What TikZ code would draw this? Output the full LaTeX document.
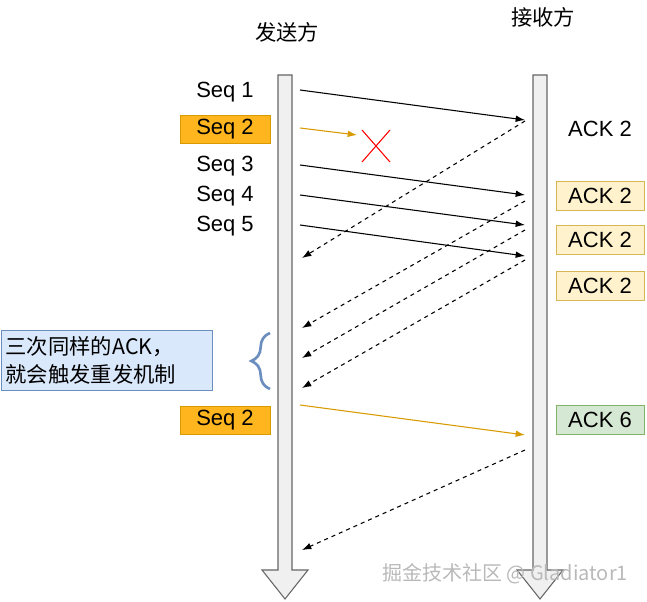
\documentclass[tikz,border=0pt]{standalone}
\usepackage{fontspec}
\setmainfont{Liberation Sans}
\newfontfamily\cjk{Noto Sans CJK SC}
\usetikzlibrary{decorations.pathreplacing,calc,arrows.meta}
\definecolor{orgfill}{HTML}{FFB61E}
\definecolor{orgline}{HTML}{D79B00}
\definecolor{ylwfill}{HTML}{FFF2CC}
\definecolor{ylwline}{HTML}{D6B656}
\definecolor{bluefill}{HTML}{DAE8FC}
\definecolor{blueline}{HTML}{6C8EBF}
\definecolor{grnfill}{HTML}{D5E8D4}
\definecolor{grnline}{HTML}{82B366}
\definecolor{arrorg}{HTML}{D79B00}
\begin{document}
\begin{tikzpicture}[x=0.75pt,y=-0.75pt,font=\fontsize{16.5pt}{19pt}\selectfont,
  lbl/.style={inner sep=0pt},
  orgbox/.style={draw=orgline,fill=orgfill,minimum width=67.5pt,minimum height=21pt,inner sep=0pt},
  ylwbox/.style={draw=ylwline,fill=ylwfill,minimum width=66pt,minimum height=22pt,inner sep=0pt},
  msg/.style={-{Latex[length=7pt,width=5pt]},black,line width=0.8pt},
  omsg/.style={-{Latex[length=7pt,width=5pt]},arrorg,line width=0.8pt},
  ack/.style={-{Latex[length=7pt,width=5pt]},black,dashed,line width=0.8pt},
  bar/.style={draw=gray!80!black,fill=gray!12,line width=0.8pt}]
\useasboundingbox (0,0) rectangle (647,602);
% lifelines
\draw[bar] (278,75)--(292,75)--(292,570)--(308,570)--(285,599)--(262,570)--(278,570)--cycle;
\draw[bar] (533,75)--(547,75)--(547,570)--(563,570)--(540,599)--(517,570)--(533,570)--cycle;
\node[lbl,font=\cjk\fontsize{16pt}{19pt}\selectfont] (snd) at (287,32) {发送方};
\node[lbl,font=\cjk\fontsize{16pt}{19pt}\selectfont] (rcv) at (543,17) {接收方};
% coordinates
\coordinate (s1a) at (300,90); \coordinate (s1b) at (525,120);
\coordinate (s2a) at (300,128); \coordinate (s2b) at (357,135);
\coordinate (s3a) at (300,165); \coordinate (s3b) at (525,195);
\coordinate (s4a) at (300,195); \coordinate (s4b) at (525,225);
\coordinate (s5a) at (300,225); \coordinate (s5b) at (525,256);
\coordinate (a1a) at (525,121); \coordinate (a1b) at (302,258);
\coordinate (a2a) at (525,201); \coordinate (a2b) at (302,328);
\coordinate (a3a) at (525,230); \coordinate (a3b) at (302,358);
\coordinate (a4a) at (525,260); \coordinate (a4b) at (302,388);
\coordinate (r2a) at (300,405); \coordinate (r2b) at (525,435);
\coordinate (a6a) at (525,450); \coordinate (a6b) at (302,550);
% sender labels
\node[lbl] (seq1) at (225,92) {Seq 1};
\node[orgbox] (seq2) at (225,129) {Seq 2};
\node[lbl] (seq3) at (225,166) {Seq 3};
\node[lbl] (seq4) at (225,196) {Seq 4};
\node[lbl] (seq5) at (225,226) {Seq 5};
\node[orgbox] (seq2r) at (225,420) {Seq 2};
% receiver labels
\node[lbl] (ackp) at (600,129) {ACK 2};
\node[ylwbox] (ack2a) at (600,196) {ACK 2};
\node[ylwbox] (ack2b) at (600,240) {ACK 2};
\node[ylwbox] (ack2c) at (600,286) {ACK 2};
\node[draw=grnline,fill=grnfill,minimum width=66pt,minimum height=22pt,inner sep=0pt] (ack6) at (600,420) {ACK 6};
% arrows
\draw[msg] (s1a)--(s1b);
\draw[omsg] (s2a)--(s2b);
\draw[msg] (s3a)--(s3b);
\draw[msg] (s4a)--(s4b);
\draw[msg] (s5a)--(s5b);
\draw[ack] (a1a)--(a1b);
\draw[ack] (a2a)--(a2b);
\draw[ack] (a3a)--(a3b);
\draw[ack] (a4a)--(a4b);
\draw[omsg] (r2a)--(r2b);
\draw[ack] (a6a)--(a6b);
% red X
\coordinate (xc) at (376,146);
\draw[red,line width=0.8pt] ($(xc)+(-14,-16)$)--($(xc)+(14,16)$) ($(xc)+(14,-16)$)--($(xc)+(-14,16)$);
% note
\node[draw=blueline,fill=bluefill,minimum width=157pt,minimum height=45pt,text width=152pt,inner sep=3pt,align=left,font=\cjk\fontsize{16pt}{21pt}\selectfont] (note) at (107,360) {三次同样的ACK，\\就会触发重发机制};
\draw[blueline,line width=2pt,decorate,decoration={brace,amplitude=14pt}] (270,389)--(270,333);
% watermark
\node[lbl,text=gray!55,font=\cjk\fontsize{15pt}{17pt}\selectfont] (wm) at (505,574) {掘金技术社区 @ Gladiator1};
\end{tikzpicture}
\end{document}
